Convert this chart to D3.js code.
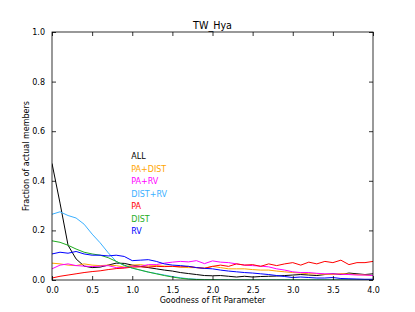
<!DOCTYPE html>
<html>
<head>
<meta charset="utf-8">
<script src="https://cdn.jsdelivr.net/npm/d3@7"></script>
<style>
  body { margin: 0; background: #fff; }
  svg text { font-family: "DejaVu Sans", sans-serif; }
</style>
</head>
<body>
<svg id="chart" width="415" height="312"></svg>
<script>
// goodness of fit parameter, step 0.1
const xs = d3.range(41).map(i => i / 10)

const seriesNames = ["ALL", "PA+DIST", "PA+RV", "DIST+RV", "PA", "DIST", "RV"]
const seriesColors = ["#000000", "#ffa500", "#ff00ff", "#3bb0ff", "#ff0000", "#1fae1f", "#0000ff"]

const allVals = [0.47, 0.31, 0.14, 0.085, 0.056, 0.05, 0.052, 0.06, 0.068, 0.067,
  0.06, 0.055, 0.05, 0.045, 0.04, 0.036, 0.03, 0.026, 0.022, 0.018,
  0.017, 0.018, 0.015, 0.012, 0.015, 0.012, 0.014, 0.015, 0.016, 0.018,
  0.02, 0.022, 0.02, 0.018, 0.022, 0.025, 0.022, 0.028, 0.025, 0.022, 0.025]
const paDistVals = [0.068, 0.065, 0.06, 0.058, 0.065, 0.06, 0.058, 0.06, 0.058, 0.052,
  0.06, 0.062, 0.057, 0.058, 0.056, 0.055, 0.052, 0.05, 0.05, 0.048,
  0.055, 0.05, 0.045, 0.045, 0.045, 0.042, 0.04, 0.04, 0.036, 0.033,
  0.03, 0.028, 0.025, 0.025, 0.023, 0.022, 0.026, 0.024, 0.022, 0.02, 0.018]
const paRvVals = [0.045, 0.06, 0.065, 0.058, 0.056, 0.054, 0.056, 0.058, 0.05, 0.05,
  0.056, 0.055, 0.062, 0.062, 0.068, 0.072, 0.075, 0.073, 0.078, 0.066,
  0.077, 0.072, 0.07, 0.065, 0.06, 0.058, 0.056, 0.053, 0.045, 0.04,
  0.033, 0.03, 0.03, 0.027, 0.025, 0.025, 0.023, 0.022, 0.02, 0.02, 0.018]
const distRvVals = [0.265, 0.275, 0.26, 0.25, 0.225, 0.185, 0.15, 0.11, 0.075, 0.058,
  0.048, 0.04, 0.032, 0.026, 0.02, 0.014, 0.009, 0.005, 0.003, 0.002,
  0.001, 0.001, 0, 0, 0, 0, 0, 0, 0, 0,
  0, 0, 0, 0, 0, 0, 0, 0, 0, 0, 0]
const paVals = [0.008, 0.015, 0.02, 0.025, 0.03, 0.034, 0.037, 0.042, 0.046, 0.048,
  0.052, 0.053, 0.052, 0.055, 0.054, 0.055, 0.053, 0.055, 0.05, 0.047,
  0.055, 0.06, 0.055, 0.065, 0.06, 0.062, 0.055, 0.065, 0.058, 0.065,
  0.07, 0.06, 0.072, 0.065, 0.075, 0.07, 0.08, 0.062, 0.07, 0.07, 0.075]
const distVals = [0.158, 0.152, 0.14, 0.125, 0.112, 0.105, 0.1, 0.09, 0.075, 0.06,
  0.048, 0.04, 0.032, 0.025, 0.018, 0.012, 0.007, 0.004, 0.002, 0.001,
  0.001, 0, 0, 0, 0, 0, 0, 0, 0, 0,
  0, 0, 0, 0, 0, 0, 0, 0, 0, 0, 0]
const rvVals = [0.105, 0.112, 0.108, 0.115, 0.105, 0.1, 0.1, 0.097, 0.1, 0.095,
  0.078, 0.08, 0.082, 0.075, 0.065, 0.06, 0.058, 0.055, 0.05, 0.047,
  0.045, 0.04, 0.036, 0.033, 0.03, 0.028, 0.025, 0.022, 0.018, 0.014,
  0.01, 0.012, 0.01, 0.008, 0.008, 0.01, 0.006, 0.005, 0.004, 0.003, 0.003]

const seriesValues = [allVals, paDistVals, paRvVals, distRvVals, paVals, distVals, rvVals]

const xTicks = d3.range(0, 4.01, 0.5)
const yTicks = [0, 0.2, 0.4, 0.6, 0.8, 1.0]

// layout
const margin = {top: 32, right: 42, bottom: 32, left: 52}
const width = 415 - margin.left - margin.right
const height = 312 - margin.top - margin.bottom

const svg = d3.select("#chart")
const g = svg.append("g")
    .attr("transform", `translate(${margin.left},${margin.top})`)

const x = d3.scaleLinear().domain([0, 4]).range([0, width])
const y = d3.scaleLinear().domain([0, 1]).range([height, 0])

g.append("clipPath").attr("id", "clip")
  .append("rect").attr("width", width).attr("height", height)

// lines, drawn in legend order
const line = d3.line()
    .x((d, i) => x(xs[i]))
    .y(d => y(d))

const plot = g.append("g").attr("clip-path", "url(#clip)")
seriesValues.forEach((vals, k) => {
  plot.append("path")
      .datum(vals)
      .attr("fill", "none")
      .attr("stroke", seriesColors[k])
      .attr("stroke-width", 1)
      .attr("d", line)
})

// axes: matplotlib classic, ticks inside on all four sides
const fmt = d3.format(".1f")
const tickLen = 4

const axBottom = g.append("g").attr("transform", `translate(0,${height})`)
    .call(d3.axisBottom(x).tickValues(xTicks).tickFormat(fmt).tickSize(-tickLen).tickPadding(tickLen + 3))
const axTop = g.append("g")
    .call(d3.axisTop(x).tickValues(xTicks).tickFormat("").tickSize(-tickLen))
const axLeft = g.append("g")
    .call(d3.axisLeft(y).tickValues(yTicks).tickFormat(fmt).tickSize(-tickLen).tickPadding(tickLen + 3))
const axRight = g.append("g").attr("transform", `translate(${width},0)`)
    .call(d3.axisRight(y).tickValues(yTicks).tickFormat("").tickSize(-tickLen))

;[axBottom, axTop, axLeft, axRight].forEach(a => {
  a.select(".domain").remove()
  a.selectAll("line").attr("stroke", "#000").attr("stroke-width", 0.8)
  a.selectAll("text").attr("fill", "#000").attr("font-size", 8)
      .style("font-family", "DejaVu Sans, sans-serif")
})

g.append("rect")
    .attr("width", width)
    .attr("height", height)
    .attr("fill", "none")
    .attr("stroke", "#000")
    .attr("stroke-width", 0.8)

// legend as coloured text
const legend = g.append("g")
legend.selectAll("text")
  .data(seriesNames)
  .join("text")
    .attr("x", x(1.0) - 1)
    .attr("y", (d, i) => y(0.5) + i * 12.5 + 3)
    .attr("font-size", 8)
    .attr("fill", (d, i) => seriesColors[i])
    .text(d => d)

// titles
svg.append("text")
    .attr("x", margin.left + width / 2)
    .attr("y", margin.top - 3)
    .attr("text-anchor", "middle")
    .attr("font-size", 9.6)
    .text("TW_Hya")

svg.append("text")
    .attr("x", margin.left + width / 2)
    .attr("y", 303)
    .attr("text-anchor", "middle")
    .attr("font-size", 8)
    .text("Goodness of Fit Parameter")

svg.append("text")
    .attr("transform", `translate(29,${margin.top + height / 2}) rotate(-90)`)
    .attr("text-anchor", "middle")
    .attr("font-size", 8)
    .text("Fraction of actual members")
</script>
</body>
</html>
